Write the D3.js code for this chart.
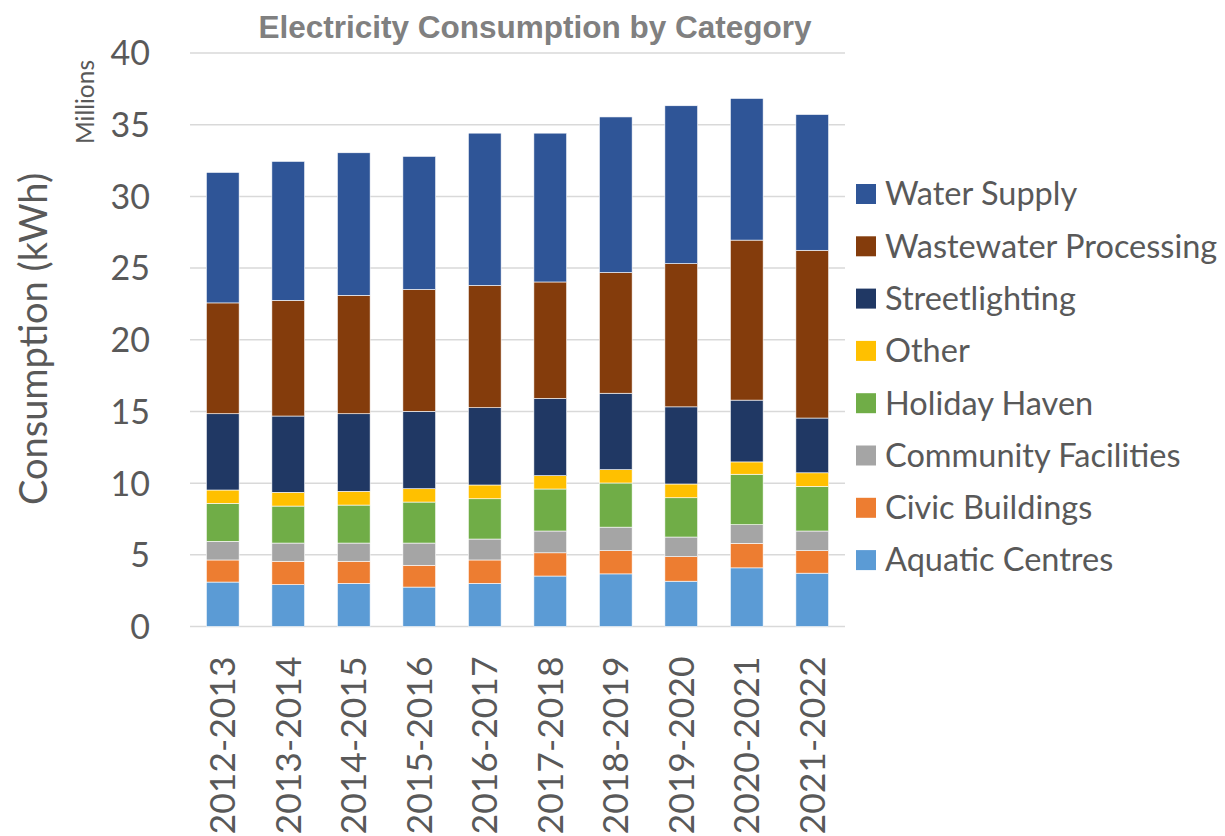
<!DOCTYPE html>
<html lang="en">
<head>
<meta charset="UTF-8">
<title>Electricity Consumption by Category</title>
<script src="https://d3js.org/d3.v7.min.js"></script>
<style>
  body { margin: 0; background: #fff; }
  text { font-family: Lato, "Open Sans", sans-serif; fill: #595959; }
</style>
</head>
<body>
<svg id="canvas"></svg>
<script>
// values in millions of kWh
let years = ['2012-2013','2013-2014','2014-2015','2015-2016','2016-2017',
             '2017-2018','2018-2019','2019-2020','2020-2021','2021-2022']
let aquatic   = [3.10, 2.92, 3.01, 2.75, 3.01, 3.52, 3.67, 3.16, 4.09, 3.72]
let civic     = [1.54, 1.63, 1.54, 1.52, 1.63, 1.62, 1.62, 1.71, 1.71, 1.57]
let community = [1.30, 1.27, 1.27, 1.55, 1.46, 1.52, 1.64, 1.37, 1.30, 1.37]
let holiday   = [2.65, 2.58, 2.65, 2.86, 2.81, 2.93, 3.08, 2.74, 3.52, 3.11]
let other     = [0.93, 0.96, 0.96, 0.93, 0.96, 0.93, 0.93, 0.96, 0.86, 0.95]
let street    = [5.32, 5.32, 5.41, 5.40, 5.39, 5.39, 5.33, 5.38, 4.31, 3.82]
let waste     = [7.73, 8.07, 8.26, 8.50, 8.53, 8.12, 8.42, 9.99, 11.16, 11.70]
let water     = [9.10, 9.69, 9.94, 9.28, 10.62, 10.38, 10.85, 11.01, 9.88, 9.47]
let yTicks = [0, 5, 10, 15, 20, 25, 30, 35, 40]

let seriesNames = ['Aquatic Centres','Civic Buildings','Community Facilities','Holiday Haven',
                   'Other','Streetlighting','Wastewater Processing','Water Supply']
let seriesData = [aquatic, civic, community, holiday, other, street, waste, water]
let colors = ['#5B9BD5','#ED7D31','#A5A5A5','#70AD47','#FFC000','#203864','#843C0C','#2F5597']

let width = 1225
let height = 836
let plotLeft = 190, plotRight = 845, plotTop = 53, plotBottom = 626.5

let svg = d3.select('svg').attr('width', width).attr('height', height)

let rows = years.map((y, i) => {
  let r = { year: y }
  seriesNames.forEach((s, j) => r[s] = seriesData[j][i])
  return r
})
let stacked = d3.stack().keys(seriesNames)(rows)

let xScale = d3.scaleBand().domain(years).range([plotLeft, plotRight]).paddingInner(0.5).paddingOuter(0.25)
let yScale = d3.scaleLinear().domain([0, 40]).range([plotBottom, plotTop])
let color = d3.scaleOrdinal().domain(seriesNames).range(colors)

// gridlines
svg.append('g')
   .selectAll('line')
   .data(yTicks)
   .enter()
   .append('line')
   .attr('x1', plotLeft).attr('x2', plotRight)
   .attr('y1', d => yScale(d)).attr('y2', d => yScale(d))
   .attr('stroke', '#d9d9d9').attr('stroke-width', 1.5)

// bars
svg.append('g')
   .selectAll('g')
   .data(stacked)
   .enter()
   .append('g')
   .attr('fill', d => color(d.key))
   .selectAll('rect')
   .data(d => d)
   .enter()
   .append('rect')
   .attr('x', d => xScale(d.data.year))
   .attr('width', xScale.bandwidth())
   .attr('y', d => yScale(d[1]))
   .attr('height', d => yScale(d[0]) - yScale(d[1]))
   .attr('stroke', '#ffffff').attr('stroke-width', 0.6)

// y axis
let yAxis = d3.axisLeft(yScale).tickValues(yTicks).tickSize(0).tickPadding(40)
let yg = svg.append('g').attr('transform', 'translate(' + plotLeft + ',0)').call(yAxis)
yg.select('.domain').remove()
yg.selectAll('text').style('font-size', '34px').attr('fill', '#595959').attr('dy', '0.35em')

// x axis
let xAxis = d3.axisBottom(xScale).tickSize(0)
let xg = svg.append('g').attr('transform', 'translate(0,' + plotBottom + ')').call(xAxis)
xg.select('.domain').remove()
xg.selectAll('text')
  .style('font-size', '35.5px')
  .attr('fill', '#595959')
  .attr('text-anchor', 'end')
  .attr('transform', 'rotate(-90)')
  .attr('x', -30)
  .attr('y', 0)
  .attr('dy', '0.35em')

// titles
svg.append('text')
   .attr('x', 535).attr('y', 38)
   .attr('text-anchor', 'middle')
   .style('font-family', '"Liberation Sans", Arial, sans-serif')
   .style('font-weight', 'bold').style('font-size', '31.5px')
   .style('fill', '#808080')
   .text('Electricity Consumption by Category')

svg.append('text')
   .attr('transform', 'translate(94,102) rotate(-90)')
   .attr('text-anchor', 'middle')
   .style('font-size', '24.5px')
   .text('Millions')

svg.append('text')
   .attr('transform', 'translate(47,339) rotate(-90)')
   .attr('text-anchor', 'middle')
   .style('font-size', '38px')
   .text('Consumption (kWh)')

// legend (top to bottom: reverse of stack order)
let legendItems = seriesNames.slice().reverse()
let legend = svg.append('g')
   .selectAll('g')
   .data(legendItems)
   .enter()
   .append('g')
   .attr('transform', (d, i) => 'translate(856,' + (194 + i * 52.3) + ')')
legend.append('rect')
   .attr('x', 0).attr('y', -10).attr('width', 20).attr('height', 20)
   .attr('fill', d => color(d))
legend.append('text')
   .attr('x', 29).attr('y', 0).attr('dy', '0.35em')
   .style('font-size', '32.5px')
   .text(d => d)
</script>
</body>
</html>
